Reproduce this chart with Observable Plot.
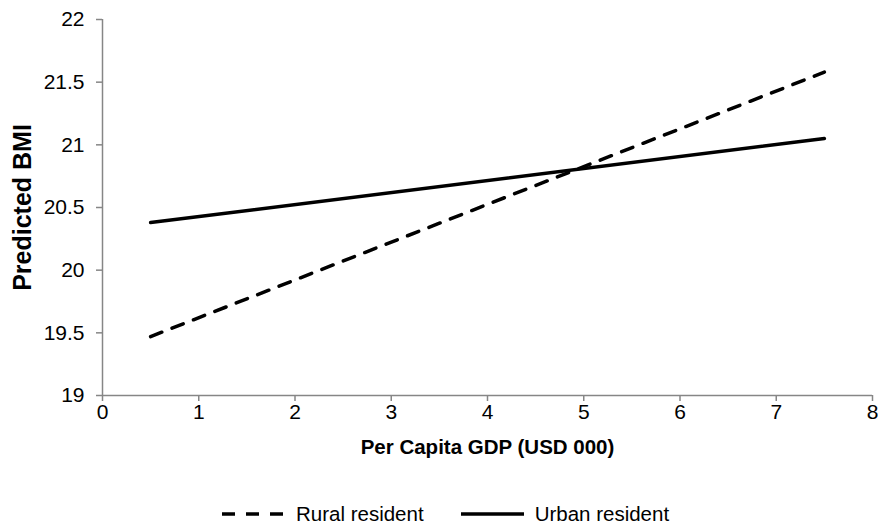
<!DOCTYPE html>
<html>
<head>
<meta charset="utf-8">
<script src="https://cdn.jsdelivr.net/npm/d3@7"></script>
<script src="https://cdn.jsdelivr.net/npm/@observablehq/plot@0.6"></script>
<style>
  html, body { margin: 0; padding: 0; background: #fff; }
  #chart { width: 878px; }
  #chart svg [aria-label$="tick label"] text, #chart svg g[aria-label$="tick label"] { font-size: 21px; }
  .legend { display: flex; align-items: center; padding-left: 220px; padding-top: 23px; height: 22px;
    font-family: "Liberation Sans", Arial, sans-serif; font-size: 20.5px; color: #000; }
  .legend .item { display: flex; align-items: center; margin-right: 35px; }
  .legend svg { margin-right: 9px; }
</style>
</head>
<body>
<div id="chart"></div>
<script>
// Data
const gdp = [0.5, 7.5];
const rural = [19.47, 21.58];
const urban = [20.38, 21.05];
const series = ["Rural resident", "Urban resident"];
const xTicks = [0, 1, 2, 3, 4, 5, 6, 7, 8];
const yTicks = [19, 19.5, 20, 20.5, 21, 21.5, 22];

const rows = [];
gdp.forEach((g, i) => {
  rows.push({gdp: g, bmi: rural[i], s: series[0]});
  rows.push({gdp: g, bmi: urban[i], s: series[1]});
});

const font = '"Liberation Sans", Arial, sans-serif';
const axisGray = "#868686";

const plot = Plot.plot({
  width: 878,
  height: 480,
  marginLeft: 102,
  marginRight: 6,
  marginTop: 19,
  marginBottom: 85,
  style: {fontFamily: font, fontSize: "21px", color: "#000", background: "#fff"},
  x: {domain: [0, 8], ticks: xTicks},
  y: {domain: [19, 22], ticks: yTicks},
  marks: [
    Plot.ruleY([19], {stroke: axisGray, strokeWidth: 1.5}),
    Plot.ruleX([0], {stroke: axisGray, strokeWidth: 1.5}),
    Plot.axisX({ticks: xTicks, tickSize: 6, tickPadding: 3, stroke: axisGray, strokeWidth: 1.5, label: null, fill: "#000"}),
    Plot.axisY({ticks: yTicks, tickSize: 6, tickPadding: 12, stroke: axisGray, strokeWidth: 1.5, label: null, fill: "#000", tickFormat: d => String(d)}),
    Plot.line(rows.filter(d => d.s === series[0]), {x: "gdp", y: "bmi", stroke: "#000", strokeWidth: 3.5, strokeDasharray: "12,11", strokeLinecap: "round"}),
    Plot.line(rows.filter(d => d.s === series[1]), {x: "gdp", y: "bmi", stroke: "#000", strokeWidth: 3.5, strokeLinecap: "round"}),
    Plot.text(["Per Capita GDP (USD 000)"], {frameAnchor: "bottom", dy: 58, text: d => d, fontWeight: "bold", fontSize: 20.5, fill: "#000"}),
    Plot.text(["Predicted BMI"], {frameAnchor: "left", dx: -80, rotate: -90, textAnchor: "middle", text: d => d, fontWeight: "bold", fontSize: 25, fill: "#000"})
  ]
});
document.getElementById("chart").appendChild(plot);

// Legend
const legend = document.createElement("div");
legend.className = "legend";
series.forEach((name, i) => {
  const item = document.createElement("div");
  item.className = "item";
  const sw = d3.create("svg").attr("width", 67).attr("height", 10);
  sw.append("line").attr("x1", 2).attr("x2", 65).attr("y1", 5).attr("y2", 5)
    .attr("stroke", "#000").attr("stroke-width", 3.5)
    .attr("stroke-dasharray", i === 0 ? "13,11" : null);
  item.appendChild(sw.node());
  const t = document.createElement("span");
  t.textContent = name;
  item.appendChild(t);
  legend.appendChild(item);
});
document.getElementById("chart").appendChild(legend);
</script>
</body>
</html>
